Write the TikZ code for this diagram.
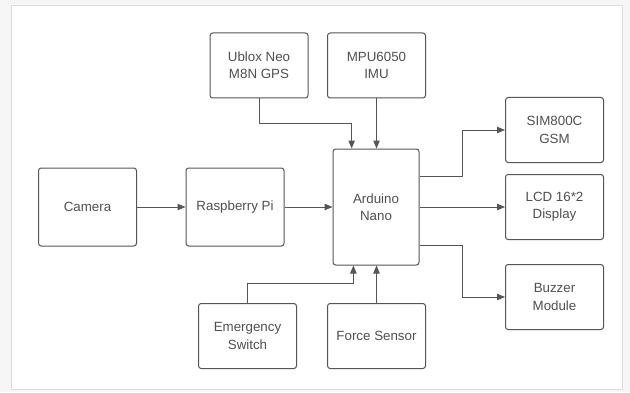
\documentclass[tikz,border=0pt]{standalone}
\usepackage{fontspec}
\setmainfont{Liberation Sans}
\usetikzlibrary{arrows.meta,calc}

\definecolor{lineGray}{RGB}{85,85,85}
\definecolor{textGray}{RGB}{80,80,80}
\definecolor{pageGray}{RGB}{246,246,246}

\tikzset{every picture/.style={line width=0.75pt}}
\tikzset{
  blk/.style={draw=lineGray, rounded corners=2pt, align=center, text=textGray,
    font=\fontsize{10}{13}\selectfont, minimum width=73.5pt, minimum height=48.75pt, inner sep=1pt},
  arr/.style={draw=lineGray, -{Triangle[length=6pt,width=4.8pt]}}
}

\begin{document}
\begin{tikzpicture}[x=0.75pt,y=0.75pt,yscale=-1,xscale=1]
\useasboundingbox (0,0) rectangle (630,392);
% page
\fill [pageGray] (0,0) rectangle (630,392);
\draw [fill=white, draw=pageGray!90!black, line width=0.3pt] (11,5) rectangle (622,389);

% Blocks
\node [blk] (gps) at (259,65.5) {Ublox Neo\\M8N GPS};
\node [blk] (imu) at (376.5,65.5) {MPU6050\\IMU};
\node [blk, minimum height=58.5pt] (cam) at (87.5,207) {Camera};
\node [blk, minimum height=58.5pt] (rpi) at (235,207) {Raspberry Pi};
\node [blk, minimum width=64.5pt, minimum height=87pt] (ard) at (376,207) {Arduino\\Nano};
\node [blk] (sim) at (554.5,130) {SIM800C\\GSM};
\node [blk] (lcd) at (554.5,207) {LCD 16*2\\Display};
\node [blk] (buz) at (554.5,297) {Buzzer\\Module};
\node [blk] (emg) at (247.5,336) {Emergency\\Switch};
\node [blk] (frc) at (376.5,336) {Force Sensor};

% Inputs
\draw [arr] (cam) -- (rpi);
\draw [arr] (rpi) -- (ard);
\draw [arr] (gps.south) -- ++(0,25) -| ($(ard.north west)!0.22!(ard.north east)$);
\draw [arr] (imu.south) -- (imu.south |- ard.north);
\draw [arr] (emg.north) -- ++(0,-20) -| ($(ard.south west)!0.24!(ard.south east)$);
\draw [arr] (frc.north) -- (frc.north |- ard.south);

% Outputs
\draw [arr] ($(ard.north east)!0.24!(ard.south east)$) -- ++(43,0) |- (sim.west);
\draw [arr] (ard) -- (lcd);
\draw [arr] ($(ard.north east)!0.83!(ard.south east)$) -- ++(43,0) |- (buz.west);

\end{tikzpicture}
\end{document}
